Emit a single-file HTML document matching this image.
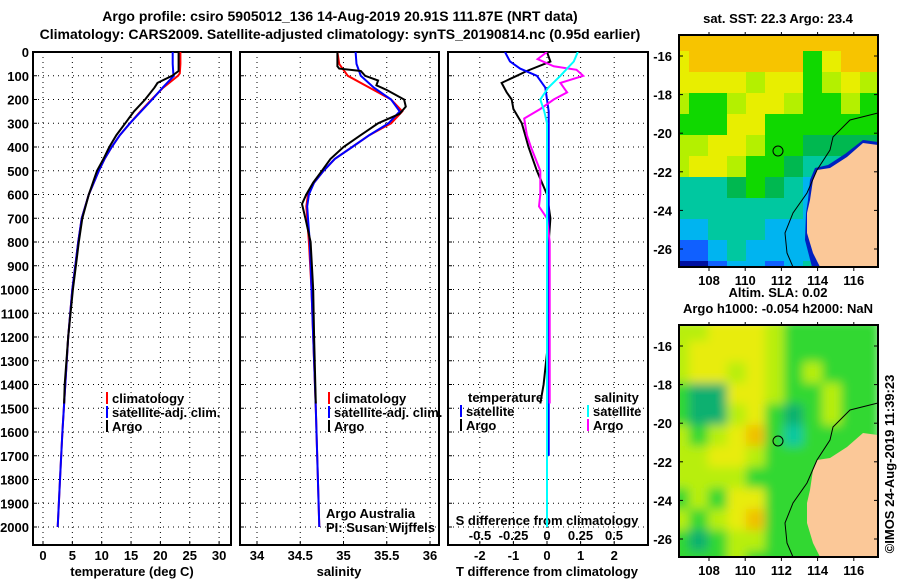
<!DOCTYPE html>
<html><head><meta charset="utf-8"><style>
body{margin:0;background:#fff;}
svg{display:block;font-family:"Liberation Sans",sans-serif;}
.b{font-weight:bold;font-size:13px;}
.t{font-weight:bold;font-size:14px;}
</style></head><body>
<svg id="s" width="900" height="580" viewBox="0 0 900 580" xmlns="http://www.w3.org/2000/svg">
<defs>
<clipPath id="c1"><rect x="33" y="52" width="198" height="493"/></clipPath>
<clipPath id="c2"><rect x="240" y="52" width="199" height="493"/></clipPath>
<clipPath id="c3"><rect x="448" y="52" width="200" height="493"/></clipPath>
<clipPath id="m1"><rect x="679" y="35" width="199" height="232"/></clipPath>
<clipPath id="m2"><rect x="679" y="325" width="199" height="232"/></clipPath>
<filter id="bl"><feGaussianBlur stdDeviation="5"/></filter>
</defs>
<text class="t" x="340" y="21" text-anchor="middle">Argo profile: csiro 5905012_136 14-Aug-2019 20.91S 111.87E (NRT data)</text>
<text class="t" x="340" y="39" text-anchor="middle">Climatology: CARS2009. Satellite-adjusted climatology: synTS_20190814.nc (0.95d earlier)</text>
<g id="g"></g>
</svg>
<script>
// ---- data ----
const depthClim=[0,50,90,100,150,200,250,300,350,400,450,500,600,700,800,900,1000,1200,1400,1600,1800,2000];
const tempClim=[23.4,23.4,23.3,23,20.5,18.5,16.6,14.8,13.1,11.7,10.5,9.5,7.8,6.6,6,5.5,5,4.3,3.8,3.3,2.9,2.5];
const tempSat=[22.1,22.1,22.2,22.3,20.4,18.6,16.7,14.8,13.1,11.7,10.5,9.5,7.8,6.6,6,5.5,5,4.3,3.8,3.3,2.9,2.5];
const depthArgo=[0,50,80,100,130,150,200,250,300,350,400,450,500,600,700,800,900,1000,1200,1400,1480];
const tempArgo=[23.1,23.1,23.1,22,19.5,19,17.4,15.5,14,12.5,11.3,10.3,9.2,7.8,6.7,6.1,5.6,5.1,4.3,3.7,3.6];
const depthS=[0,50,100,150,200,250,300,350,400,450,500,550,600,650,700,800,1000,1200,1500,2000];
const salClim=[34.93,34.95,35.05,35.3,35.55,35.68,35.55,35.3,35.1,34.9,34.77,34.66,34.59,34.57,34.58,34.6,34.63,34.65,34.68,34.72];
const salSat=[35.14,35.15,35.2,35.35,35.55,35.65,35.52,35.3,35.1,34.9,34.77,34.66,34.6,34.58,34.59,34.61,34.63,34.65,34.68,34.72];
const depthSA=[0,60,70,80,100,120,140,160,200,230,260,300,350,400,450,500,550,600,640,700,800,1000,1200,1480];
const salArgo=[34.93,34.93,34.95,35.2,35.25,35.4,35.38,35.5,35.7,35.72,35.65,35.4,35.2,35.0,34.85,34.75,34.65,34.57,34.52,34.56,34.62,34.65,34.66,34.68];
const depthD=[0,40,80,100,130,170,200,240,300,350,400,500,600,700,800,1000,1200,1400,1480];
const dTArgo=[0,0.1,-0.6,-0.9,-1.35,-1.2,-1.05,-1.0,-0.75,-0.65,-0.55,-0.3,0,0.1,0.05,0.05,0.05,-0.1,-0.2];
const depthDS=[0,40,70,100,150,200,250,300,400,600,800,1000,1400,1700];
const dTSat=[-1.25,-1.1,-0.8,-0.3,-0.05,0,0.05,0.05,0.05,0.05,0.05,0.05,0.05,0.05];
const dSSat=[0.23,0.2,0.15,0.1,0.01,-0.05,-0.02,0,0,0,0,0,0,0];
const depthDM=[0,30,60,75,100,130,170,200,240,280,350,400,500,600,650,700,800,1000,1480];
const dSArgo=[0,-0.07,0.05,0.22,0.27,0.1,0.15,0.05,-0.05,-0.17,-0.15,-0.12,-0.05,-0.05,-0.06,0,0.02,0.02,0.02];
const depthTicks=[0,100,200,300,400,500,600,700,800,900,1000,1100,1200,1300,1400,1500,1600,1700,1800,1900,2000];
const tempTicks=[0,5,10,15,20,25,30];
const salTicks=[34,34.5,35,35.5,36];
const dTTicks=[-2,-1,0,1,2];
const dSTicks=[-0.5,-0.25,0,0.25,0.5];
const latTicks=[-16,-18,-20,-22,-24,-26];
const lonTicks=[108,110,112,114,116];
// ---- scales ----
const yD=d=>52+d*0.2375;
const xT=t=>43+t*5.87;
const xS=s=>257+(s-34)*86.5;
const xDT=v=>547+v*33.6;
const xDS=v=>547+v*134;
const NS="http://www.w3.org/2000/svg";
const G=document.getElementById('g');
function el(tag,at,parent){const e=document.createElementNS(NS,tag);for(const k in at)e.setAttribute(k,at[k]);(parent||G).appendChild(e);return e;}
function txt(x,y,s,cls,anchor,parent){const e=el('text',{x:x,y:y,'class':cls||'b','text-anchor':anchor||'start'},parent);e.textContent=s;return e;}
function line(depths,vals,xf,color,clip,w,name){
  let d='';depths.forEach((dp,i)=>{d+=(i?'L':'M')+xf(vals[i]).toFixed(1)+' '+yD(dp).toFixed(1);});
  const p=el('path',{d:d,fill:'none',stroke:color,'stroke-width':w||2,'clip-path':'url(#'+clip+')'});
  
  
}
const panels=[[33,198,'c1',tempTicks,xT],[240,199,'c2',salTicks,xS],[448,200,'c3',dTTicks,xDT]];
panels.forEach((p,i)=>{
  const r=el('rect',{x:p[0],y:52,width:p[1],height:493,fill:'#fff',stroke:'#000','stroke-width':2});
  
  
  depthTicks.forEach(d=>{if(d>0)el('line',{x1:p[0],x2:p[0]+p[1],y1:yD(d),y2:yD(d),stroke:'#000','stroke-width':1,'stroke-dasharray':'1 4'});
    el('line',{x1:p[0],x2:p[0]+4,y1:yD(d),y2:yD(d),stroke:'#000'});});
  p[3].forEach(v=>{const x=p[4](v);el('line',{x1:x,x2:x,y1:52,y2:545,stroke:'#000','stroke-dasharray':'1 4'});
    el('line',{x1:x,x2:x,y1:541,y2:545,stroke:'#000'});
    const t=txt(x,560,String(v),'b','middle');});
});
depthTicks.forEach(d=>{const t=txt(29,yD(d)+5,String(d),'b','end');});
let at=txt(132,576,'temperature (deg C)','b','middle');
at=txt(339,576,'salinity','b','middle');
at=txt(547,576,'T difference from climatology','b','middle');
at=txt(547,525,'S difference from climatology','b','middle');
dSTicks.forEach(v=>{const t=txt(xDS(v),540,String(v),'b','middle');});
// series
line(depthClim,tempClim,xT,'#ff0000','c1',2,'temp-climatology-line');
line(depthClim,tempSat,xT,'#0000ff','c1',2,'temp-satellite-line');
line(depthArgo,tempArgo,xT,'#000000','c1',2,'temp-argo-line');
line(depthS,salClim,xS,'#ff0000','c2',2,'sal-climatology-line');
line(depthS,salSat,xS,'#0000ff','c2',2,'sal-satellite-line');
line(depthSA,salArgo,xS,'#000000','c2',2,'sal-argo-line');
line(depthD,dTArgo,xDT,'#000000','c3',2,'tdiff-argo-line');
line(depthDS,dTSat,xDT,'#0000ff','c3',2,'tdiff-satellite-line');
line(depthDM,dSArgo,xDS,'#ff00ff','c3',2,'sdiff-argo-line');
line(depthDS.concat([2000]),dSSat.concat([0]),xDS,'#00ffff','c3',2,'sdiff-satellite-line');
// legends
function leg(x,y,color,label,name){const g=el('g',{});
  el('rect',{x:x,y:y-11,width:2,height:12,fill:color},g);txt(x+6,y,label,'b','start',g);}
leg(106,403,'#ff0000','climatology','legend-temp-climatology');
leg(106,417,'#0000ff','satellite-adj. clim.','legend-temp-satellite');
leg(106,431,'#000000','Argo','legend-temp-argo');
leg(328,403,'#ff0000','climatology','legend-sal-climatology');
leg(328,417,'#0000ff','satellite-adj. clim.','legend-sal-satellite');
leg(328,431,'#000000','Argo','legend-sal-argo');
at=txt(468,402,'temperature');
at=txt(594,402,'salinity');
leg(460,416,'#0000ff','satellite','legend-tdiff-satellite');
leg(460,430,'#000000','Argo','legend-tdiff-argo');
leg(587,416,'#00ffff','satellite','legend-sdiff-satellite');
leg(587,430,'#ff00ff','Argo','legend-sdiff-argo');
let n=txt(326,518,'Argo Australia','','start');n.setAttribute('font-size','12');
n=txt(326,532,'PI: Susan Wijffels','','start');n.setAttribute('font-size','12');
// maps
const col={O:'#f7c400',Y:'#e8ee00',L:'#b4f000',G:'#10d800',D:'#00b850',T:'#00c8a0',C:'#00b4f0',B:'#1060ff',N:'#0010a0'};
const col2={O:'#f0c000',Y:'#e8ec10',L:'#b8ee10',G:'#30d830',D:'#10b070',T:'#10c8a0',C:'#00b4f0',B:'#1060ff',N:'#0010a0'};
const map1=["OOOOOOOOOOO","YOOOOOOGYOO","YYYYLYYGLYL","LGGLYYLGGLG","GGGYYGGGGGG","LLYYLGGDDDD","LYYLGGDTTDD","TTTDGDTCTTT","TTTTTTTCTTT","CCTTTCCCTTT","BBCTCCCCTTT","NNBCCBCTTTT"];
const map2=["LLYYYLGGGGG","LYYYYLGGGGG","LYYLYLGLGGG","GDDYYLGGLGG","GDDLYGDGLGG","LGLYOGTGGGG","LLYYLGGGGGG","LLLLGGGGGGG","GLGYYGGGGGG","LGLYOGGGGGG","GDGLLGGGGGG","GGGLGGGGGGG"];
const lonX=l=>709+(l-108)*18.1;
const coast=[[878,145],[863,143],[847,157],[830,168],[817,170],[813,180],[810,200],[807,213],[807,233],[813,253],[820,267]];
const bathy=[[878,113],[850,120],[833,137],[830,150],[817,170],[807,193],[793,213],[785,233],[787,253],[793,267]];
function drawMap(oy,grid,cmap,blur,name,title1,title2){
  const g=el('g',{});
  const latY=l=>oy+21+(-16-l)*19.3;
  const inner=el('g',{'clip-path':'url(#'+(oy<100?'m1':'m2')+')'},g);
  const cells=el('g',blur?{filter:'url(#bl)'}:{},inner);
  grid.forEach((row,r)=>{for(let c=0;c<row.length;c++){el('rect',{x:670+c*19,y:oy-5+r*21,width:19.5,height:21.5,fill:cmap[row[c]]},cells);}});
  if(!blur){el('path',{d:'M878 142 L863 140 L845 154 L828 165 L815 168 L810 180 L808 200 L806 213 L805 240 L812 267 L830 267 Z',fill:'#0020c0'},inner);}
  el('path',{d:'M'+coast.map(p=>p[0]+' '+(p[1]+oy-35)).join(' L')+' L878 '+(267+oy-35)+' Z',fill:'#fbc898'},inner);
  el('path',{d:'M'+bathy.map(p=>p[0]+' '+(p[1]+oy-35)).join(' L'),fill:'none',stroke:'#000','stroke-width':1},inner);
  el('circle',{cx:778,cy:151+oy-35,r:5,fill:'none',stroke:'#000','stroke-width':1},inner);
  el('rect',{x:679,y:oy,width:199,height:232,fill:'none',stroke:'#000','stroke-width':2},g);
  latTicks.forEach(l=>{const y=latY(l);el('line',{x1:679,x2:683,y1:y,y2:y,stroke:'#000'},g);el('line',{x1:874,x2:878,y1:y,y2:y,stroke:'#000'},g);txt(672,y+5,String(l),'b','end',g);});
  lonTicks.forEach(l=>{const x=lonX(l);el('line',{x1:x,x2:x,y1:oy-3,y2:oy,stroke:'#000'},g);el('line',{x1:x,x2:x,y1:oy+232,y2:oy+236,stroke:'#000'},g);txt(x,oy+250,String(l),'b','middle',g);});
  txt(778,oy-12-(title2?16:0),title1,'b','middle',g);
  if(title2)txt(778,oy-12,title2,'b','middle',g);
}
drawMap(35,map1,col,false,'sst-map','sat. SST: 22.3 Argo: 23.4');
drawMap(325,map2,col2,true,'sla-map','Altim. SLA: 0.02','Argo h1000: -0.054 h2000: NaN');
const cr=txt(0,0,'©IMOS 24-Aug-2019 11:39:23','','middle');
cr.setAttribute('font-size','13');
cr.setAttribute('transform','translate(894 464) rotate(-90)');


</script>
</body></html>
